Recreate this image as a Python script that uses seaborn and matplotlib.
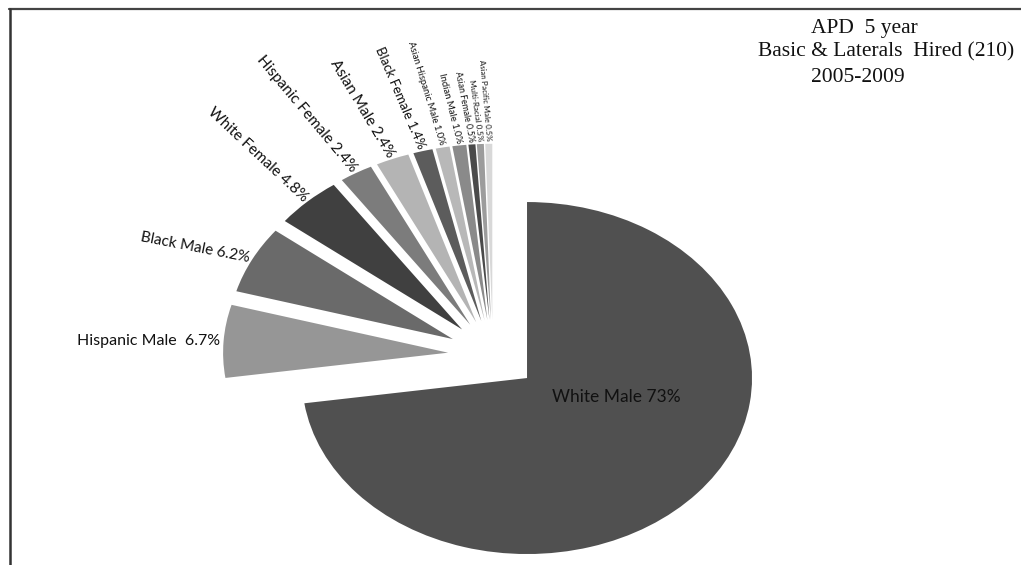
import numpy as np
import matplotlib
matplotlib.use("Agg")
import matplotlib.pyplot as plt
import seaborn as sns
from matplotlib.lines import Line2D

# Hiring mix, share of 210 hires (percent)
categories = [
    "White Male", "Hispanic Male", "Black Male", "White Female",
    "Hispanic Female", "Asian Male", "Black Female", "Asian Hispanic Male",
    "Indian Male", "Asian Female", "Multi-Racial", "Asian Pacific Male",
]
shares = [73, 6.7, 6.2, 4.8, 2.4, 2.4, 1.4, 1.0, 1.0, 0.5, 0.5, 0.5]
title_lines = ["APD  5 year", "Basic & Laterals  Hired (210)", "2005-2009"]

# Styling
grays = ["#505050", "#969696", "#6a6a6a", "#404040", "#7c7c7c", "#b4b4b4",
         "#5c5c5c", "#b8b8b8", "#8a8a8a", "#4a4a4a", "#9c9c9c", "#d8d8d8"]
label_rot = [0, 0, -11, -43, -50, -59, -67, -73, -76, -79, -82, -85]
label_size = [12.5, 11.5, 11, 11, 11, 11, 9.5, 6.8, 6.8, 6.2, 5.8, 5.6]
label_gap = ["", "  ", " ", " ", " ", " ", " ", " ", " ", " ", " ", " "]
title_x = [864, 886, 858]
title_y = [28, 52, 77]

sns.set_theme(style="white")
plt.rcParams["font.family"] = ["Lato", "DejaVu Sans"]

W, H = 1021, 565
fig = plt.figure(figsize=(W / 100, H / 100), dpi=100)
ax = fig.add_axes([0, 0, 1, 1])

wedges, _ = ax.pie(
    shares, colors=grays, startangle=90, counterclock=False,
    explode=[0.2] * len(shares), radius=1.0,
    wedgeprops=dict(linewidth=0, antialiased=True),
)

# Elliptical pie: horizontal radius 225 px, vertical radius 176 px
cx, cy = 493, 355
ax.set_aspect("auto")
ax.set_xlim(-cx / 225, (W - cx) / 225)
ax.set_ylim((cy - H) / 176, cy / 176)
ax.axis("off")


def fmt(v):
    return f"{v:.0f}%" if v >= 10 else f"{v:.1f}%"


for i, w in enumerate(wedges):
    text = f"{categories[i]}{label_gap[i] or ' '}{fmt(shares[i])}"
    ox, oy = w.center
    if i == 0:
        ang = np.deg2rad(-15)
        ax.text(ox + 0.41 * np.cos(ang), oy + 0.41 * np.sin(ang), text,
                ha="center", va="center", fontsize=label_size[i], color="#111111")
        continue
    mid = np.deg2rad(0.5 * (w.theta1 + w.theta2))
    r = w.r + 0.015
    ax.text(ox + r * np.cos(mid), oy + r * np.sin(mid), text,
            ha="right", va="center", rotation=label_rot[i],
            rotation_mode="anchor", fontsize=label_size[i], color="#111111")

for line, tx, ty in zip(title_lines, title_x, title_y):
    fig.text(tx / W, 1 - ty / H, line, ha="center", va="center",
             fontsize=15.5, family=["Liberation Serif", "DejaVu Serif"],
             color="#111111")

# Chart area border (top and left edges)
fig.add_artist(Line2D([9 / W, 1], [1 - 9 / H, 1 - 9 / H], transform=fig.transFigure,
                      color="#444444", lw=1.6))
fig.add_artist(Line2D([10 / W, 10 / W], [1 - 9 / H, 0], transform=fig.transFigure,
                      color="#333333", lw=1.8))

fig.savefig("out.png", dpi=100, facecolor="white")
